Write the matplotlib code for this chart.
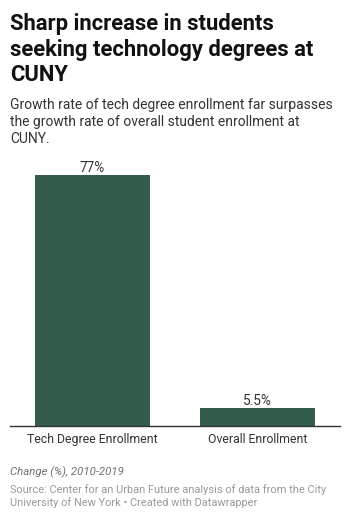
import matplotlib.pyplot as plt

plt.rcParams['font.family'] = ['Roboto', 'DejaVu Sans']

categories = ["Tech Degree Enrollment", "Overall Enrollment"]
values = [77, 5.5]
value_labels = ["77%", "5.5%"]

W, H = 350, 520
fig = plt.figure(figsize=(W / 100, H / 100), dpi=100)


def fy(px):
    return 1 - px / H


fig.text(10 / W, fy(13), "Sharp increase in students\nseeking technology degrees at\nCUNY",
         ha="left", va="top", fontsize=15.8, fontweight="bold", color="#111111",
         linespacing=1.22)
fig.text(10 / W, fy(98), "Growth rate of tech degree enrollment far surpasses\n"
         "the growth rate of overall student enrollment at\nCUNY.",
         ha="left", va="top", fontsize=10, color="#333333", linespacing=1.26)

ax = fig.add_axes([10 / W, fy(426), 330 / W, (426 - 175) / H])
ax.bar(range(len(values)), values, width=0.7, color="#345c4a")
for i, (v, lab) in enumerate(zip(values, value_labels)):
    ax.text(i, v, lab, ha="center", va="bottom", fontsize=9.8, color="#333333",
            clip_on=False)
ax.set_xlim(-0.5, 1.5)
ax.set_ylim(0, 77)
ax.set_xticks(range(len(categories)))
ax.set_xticklabels(categories, fontsize=8.8, color="#333333")
ax.tick_params(axis="x", length=0, pad=5)
ax.set_yticks([])
for s in ["top", "right", "left"]:
    ax.spines[s].set_visible(False)
ax.spines["bottom"].set_color("#333333")
ax.spines["bottom"].set_linewidth(1)

fig.text(10 / W, fy(472), "Change (%), 2010-2019", ha="left", va="center",
         fontsize=8.2, style="italic", color="#707070")
fig.text(10 / W, fy(484), "Source: Center for an Urban Future analysis of data from the City\n"
         "University of New York \u2022 Created with Datawrapper",
         ha="left", va="top", fontsize=7.9, color="#999999", linespacing=1.3)

fig.savefig("out.png", dpi=100)
